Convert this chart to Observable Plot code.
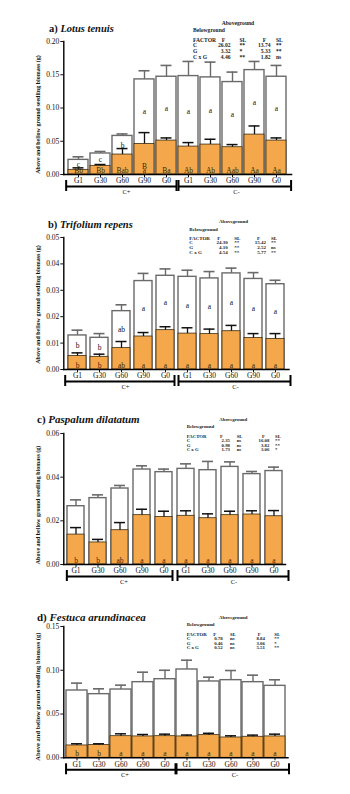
<!DOCTYPE html>
<html><head><meta charset="utf-8">
<script src="https://cdn.jsdelivr.net/npm/d3@7"></script>
<script src="https://cdn.jsdelivr.net/npm/@observablehq/plot@0.6"></script>
<style>
html,body{margin:0;padding:0;background:#fff}
body{width:350px;height:794px;position:relative;overflow:hidden}
.panel{position:absolute;left:0;top:0}
.title{position:absolute;font-family:"Liberation Serif",serif;font-weight:bold;white-space:nowrap;line-height:1;transform:translateY(-50%);color:#111;z-index:2}
.tb{position:absolute;font-family:"Liberation Serif",serif;font-weight:bold;white-space:nowrap;line-height:1;color:#222;z-index:2}
</style></head><body>
<script>
// ---------- shared categories ----------
const treatments = ["G1", "G30", "G60", "G90", "G0"];
const groups = ["C+", "C-"];
const factors = ["C", "G", "C x G"];
const yLabel = "Above and bellow ground seedling biomass (g)";

// ---------- a) Lotus tenuis ----------
const aTitle = ["a)", "Lotus tenuis"];
const aTicks = [0, 0.05, 0.10, 0.15, 0.20];
const aBelow   = [0.007, 0.013, 0.030, 0.046, 0.051, 0.042, 0.045, 0.041, 0.060, 0.051];
const aBelowSE = [0.003, 0.002, 0.009, 0.017, 0.004, 0.006, 0.008, 0.004, 0.013, 0.004];
const aTotal   = [0.022, 0.0316, 0.058, 0.143, 0.147, 0.148, 0.146, 0.139, 0.157, 0.147];
const aTotalSE = [0.0046, 0.003, 0.003, 0.013, 0.017, 0.022, 0.023, 0.015, 0.013, 0.017];
const aLettersAbove = ["c", "c", "b", "a", "a", "a", "a", "a", "a", "a"];
const aLettersBelow = ["Bb", "Bb", "Bab", "B\na", "Ba", "Ab", "Ab", "Aab", "Aa", "Aa"];
const aBelowF  = ["26.02", "3.32", "4.46"];
const aBelowSL = ["**", "*", "**"];
const aAboveF  = ["13.74", "5.33", "1.82"];
const aAboveSL = ["**", "**", "ns"];

// ---------- b) Trifolium repens ----------
const bTitle = ["b)", "Trifolium repens"];
const bTicks = [0, 0.01, 0.02, 0.03, 0.04, 0.05];
const bBelow   = [0.0051, 0.0048, 0.0081, 0.0125, 0.0149, 0.0136, 0.0134, 0.0145, 0.0119, 0.0116];
const bBelowSE = [0.0012, 0.0010, 0.0025, 0.0015, 0.0013, 0.0022, 0.0019, 0.0022, 0.0017, 0.0020];
const bTotal   = [0.0129, 0.0120, 0.0221, 0.0335, 0.0355, 0.0351, 0.0345, 0.0364, 0.0343, 0.0323];
const bTotalSE = [0.0020, 0.0016, 0.0024, 0.0029, 0.0026, 0.0025, 0.0026, 0.0020, 0.0024, 0.0015];
const bLettersAbove = ["b", "b", "ab", "a", "a", "a", "a", "a", "a", "a"];
const bLettersBelow = ["b", "b", "ab", "a", "a", "a", "a", "a", "a", "a"];
const bBelowF  = ["24.30", "4.10", "4.54"];
const bBelowSL = ["**", "**", "**"];
const bAboveF  = ["15.42", "2.52", "5.77"];
const bAboveSL = ["**", "ns", "**"];

// ---------- c) Paspalum dilatatum ----------
const cTitle = ["c)", "Paspalum dilatatum"];
const cTicks = [0, 0.02, 0.04, 0.06];
const cBelow   = [0.0137, 0.0101, 0.0157, 0.0226, 0.0218, 0.0223, 0.0212, 0.0226, 0.0229, 0.0221];
const cBelowSE = [0.0032, 0.0014, 0.0035, 0.0027, 0.0026, 0.0023, 0.0020, 0.0018, 0.0017, 0.0026];
const cTotal   = [0.0267, 0.0304, 0.0348, 0.0435, 0.0423, 0.0438, 0.0432, 0.0447, 0.0414, 0.0428];
const cTotalSE = [0.0029, 0.0015, 0.0014, 0.0017, 0.0014, 0.0023, 0.0040, 0.0023, 0.0012, 0.0018];
const cLettersAbove = ["", "", "", "", "", "", "", "", "", ""];
const cLettersBelow = ["b", "b", "ab", "a", "a", "a", "a", "a", "a", "a"];
const cBelowF  = ["2.35", "0.98", "1.73"];
const cBelowSL = ["ns", "ns", "ns"];
const cAboveF  = ["16.08", "3.82", "3.06"];
const cAboveSL = ["**", "**", "*"];

// ---------- d) Festuca arundinacea ----------
const dTitle = ["d)", "Festuca arundinacea"];
const dTicks = [0, 0.05, 0.10, 0.15];
const dBelow   = [0.0141, 0.0145, 0.0247, 0.0244, 0.0247, 0.0244, 0.0259, 0.0232, 0.0240, 0.0244];
const dBelowSE = [0.0019, 0.0015, 0.0027, 0.0022, 0.0023, 0.0016, 0.0021, 0.0019, 0.0019, 0.0026];
const dTotal   = [0.0769, 0.0727, 0.0780, 0.0864, 0.0898, 0.1009, 0.0872, 0.0887, 0.0864, 0.0822];
const dTotalSE = [0.0084, 0.0061, 0.0050, 0.0114, 0.0102, 0.0106, 0.0049, 0.0110, 0.0080, 0.0069];
const dLettersAbove = ["", "", "", "", "", "", "", "", "", ""];
const dLettersBelow = ["b", "b", "a", "a", "a", "a", "a", "a", "a", "a"];
const dBelowF  = ["0.78", "0.46", "0.52"];
const dBelowSL = ["ns", "ns", "ns"];
const dAboveF  = ["8.84", "3.06", "5.51"];
const dAboveSL = ["**", "*", "**"];

// ---------- layout (pixels) ----------
const panels = [
  {title: aTitle, ticks: aTicks, below: aBelow, belowSE: aBelowSE, total: aTotal, totalSE: aTotalSE,
   la: aLettersAbove, lb: aLettersBelow, bF: aBelowF, bSL: aBelowSL, tF: aAboveF, tSL: aAboveSL,
   L: {yTop: 41, yZero: 174, pi: 0.113, po: 0.106, mr: 58.9, ext: 4.6, titleX: 49, titleY: 29, titleFs: 10.5,
       ylFs: 6, ylDy: 6.5,
       tbl: {fs: 5.6, ab: [221.7, 24.3], be: [193, 31], rows: [40.8, 46.4, 52, 57.5], lx: 193, f1h: 221.7, f1r: 230.5, sl1: 239.5, f2h: 262.7, f2r: 270.5, sl2: 276}}},
  {title: bTitle, ticks: bTicks, below: bBelow, belowSE: bBelowSE, total: bTotal, totalSE: bTotalSE,
   la: bLettersAbove, lb: bLettersBelow, bF: bBelowF, bSL: bBelowSL, tF: bAboveF, tSL: bAboveSL,
   L: {yTop: 236.7, yZero: 368.7, pi: 0.2, po: 0.15, mr: 61.5, ext: 6, titleX: 48, titleY: 224.7, titleFs: 10.5,
       ylFs: 6, ylDy: 1,
       tbl: {fs: 5, ab: [219, 220.7], be: [189.3, 229], rows: [237.5, 242.3, 247, 251.7], lx: 189.3, f1h: 217.3, f1r: 227.7, sl1: 234.3, f2h: 257, f2r: 266, sl2: 271}}},
  {title: cTitle, ticks: cTicks, below: cBelow, belowSE: cBelowSE, total: cTotal, totalSE: cTotalSE,
   la: cLettersAbove, lb: cLettersBelow, bF: cBelowF, bSL: cBelowSL, tF: cAboveF, tSL: cAboveSL,
   L: {yTop: 432.7, yZero: 563.7, pi: 0.24, po: 0.03, mr: 65, ext: 6, titleX: 37, titleY: 419.3, titleFs: 11,
       ylFs: 6, ylDy: 6,
       tbl: {fs: 4.8, ab: [219.3, 420.3], be: [186.7, 427], rows: [436.5, 441, 445.5, 450], lx: 186.7, f1h: 220, f1r: 230, sl1: 236.7, f2h: 262, f2r: 269.3, sl2: 275}}},
  {title: dTitle, ticks: dTicks, below: dBelow, belowSE: dBelowSE, total: dTotal, totalSE: dTotalSE,
   la: dLettersAbove, lb: dLettersBelow, bF: dBelowF, bSL: dBelowSL, tF: dAboveF, tSL: dAboveSL,
   L: {yTop: 626, yZero: 757.3, pi: 0.05, po: 0.02, mr: 62.5, ext: 3.5, titleX: 37, titleY: 616.7, titleFs: 11,
       ylFs: 6.5, ylDy: 4.5,
       tbl: {fs: 4.9, ab: [219, 617.7], be: [186.7, 625], rows: [634.5, 639.2, 643.8, 648.4], lx: 186.7, f1h: 213.3, f1r: 222.7, sl1: 230, f2h: 257.7, f2r: 265, sl2: 274.3}}}
];

const ORANGE = "#f5a84b";
const GREY = "#6a6a6a";
const ML = 63.3, MT = 30, MB = 28;
const keys = groups.flatMap(g => treatments.map(t => g + "|" + t));

function addText(txt, x, y, fs, align) {
  const s = document.createElement("span");
  s.className = "tb";
  s.textContent = txt;
  s.style.fontSize = fs + "px";
  s.style.top = y + "px";
  s.style.transform = "translateY(-50%)";
  if (align === "right") s.style.right = (350 - x) + "px";
  else s.style.left = x + "px";
  document.body.appendChild(s);
}

for (const p of panels) {
  const L = p.L;
  const h = L.yZero - L.yTop;
  const H = MT + h + MB;
  const rows = keys.map((k, i) => ({
    k, below: p.below[i], belowSE: p.belowSE[i], total: p.total[i], totalSE: p.totalSE[i],
    la: p.la[i], lb: p.lb[i]
  }));
  const base = {
    width: 350, height: H, marginLeft: ML, marginRight: L.mr, marginTop: MT, marginBottom: MB,
    style: {fontFamily: "Liberation Serif, serif", fontSize: "7.5px", color: "#111", background: "transparent", overflow: "visible"},
    x: {domain: keys, paddingInner: L.pi, paddingOuter: L.po, axis: null},
    y: {domain: [0, p.ticks[p.ticks.length - 1]], axis: null}
  };
  // probe the band geometry from the library's own x scale
  const sx = Plot.plot({...base, marks: [Plot.barY(rows, {x: "k", y: "total"})]}).scale("x");
  const bw = sx.bandwidth, step = sx.step;
  const outer = step * L.po;
  const capInset = Math.max(0, (bw - 11) / 2);

  const cap = (x, dx) => Plot.ruleX([x], {x: d => d, dx, insetTop: h + 6, insetBottom: -17, stroke: "#000", strokeWidth: 2});

  const chart = Plot.plot({
    ...base,
    marks: [
      // aboveground (stacked on top of belowground)
      Plot.barY(rows, {x: "k", y1: 0, y2: "total", fill: "#fff", stroke: GREY, strokeWidth: 1.4}),
      Plot.ruleX(rows, {x: "k", y1: "total", y2: d => d.total + d.totalSE, stroke: GREY, strokeWidth: 1.4}),
      Plot.tickY(rows, {x: "k", y: d => d.total + d.totalSE, inset: capInset, stroke: GREY, strokeWidth: 1.6}),
      // belowground
      Plot.barY(rows, {x: "k", y1: 0, y2: "below", fill: ORANGE, stroke: "#3b2c12", strokeWidth: 0.8}),
      Plot.ruleX(rows, {x: "k", y1: "below", y2: d => d.below + d.belowSE, stroke: "#111", strokeWidth: 1.3}),
      Plot.tickY(rows, {x: "k", y: d => d.below + d.belowSE, inset: capInset, stroke: "#111", strokeWidth: 1.5}),
      // significance letters
      Plot.text(rows, {x: "k", y: d => (d.below + d.total) / 2, text: "la", fontSize: 7.5, fill: "#111"}),
      Plot.text(rows, {x: "k", y: () => 0, text: "lb", fontSize: 7.5, fill: "#3a2808", lineAnchor: "bottom", lineHeight: 0.55, dy: -1.5}),
      // axes
      Plot.frame({anchor: "left", stroke: "#000", strokeWidth: 1.4}),
      Plot.frame({anchor: "bottom", stroke: "#000", strokeWidth: 1.4}),
      Plot.axisY({ticks: p.ticks, tickFormat: d3.format(".2f"), tickSize: 3, tickPadding: 1.5, label: null, fontSize: 7.5}),
      Plot.axisX({tickFormat: d => d.split("|")[1], tickSize: 3, tickPadding: 0.5, label: null, fontSize: 7.5}),
      Plot.text([yLabel], {frameAnchor: "left", textAnchor: "middle", rotate: -90, dx: -25.6, dy: L.ylDy, fontSize: L.ylFs, fontWeight: "bold", fill: "#111"}),
      // group brackets
      Plot.ruleY([{x1: "C+|G1", x2: "C+|G0"}], {x1: "x1", x2: "x2", y: () => 0, dy: 12, insetLeft: -outer, stroke: "#000", strokeWidth: 2}),
      Plot.ruleY([{x1: "C-|G1", x2: "C-|G0"}], {x1: "x1", x2: "x2", y: () => 0, dy: 12, insetRight: -L.ext, stroke: "#000", strokeWidth: 2}),
      cap("C+|G1", -(bw / 2 + outer)),
      cap("C+|G0", bw / 2),
      cap("C-|G1", -bw / 2),
      cap("C-|G0", bw / 2 + L.ext),
      Plot.text(groups, {x: g => g + "|G60", frameAnchor: "bottom", dy: 19, dx: 4, text: d => d, fontSize: 6.5, fill: "#111"})
    ]
  });
  const div = document.createElement("div");
  div.className = "panel";
  div.style.top = (L.yTop - MT) + "px";
  div.appendChild(chart);
  document.body.appendChild(div);

  // title
  const t = document.createElement("div");
  t.className = "title";
  t.style.left = L.titleX + "px";
  t.style.top = L.titleY + "px";
  t.style.fontSize = L.titleFs + "px";
  t.appendChild(document.createTextNode(p.title[0] + " "));
  const it = document.createElement("i");
  it.textContent = p.title[1];
  t.appendChild(it);
  document.body.appendChild(t);

  // statistics table
  const T = L.tbl;
  addText("Aboveground", T.ab[0], T.ab[1], T.fs);
  addText("Belowground", T.be[0], T.be[1], T.fs);
  addText("FACTOR", T.lx, T.rows[0], T.fs);
  addText("F", T.f1h, T.rows[0], T.fs);
  addText("SL", T.sl1, T.rows[0], T.fs);
  addText("F", T.f2h, T.rows[0], T.fs);
  addText("SL", T.sl2, T.rows[0], T.fs);
  factors.forEach((f, i) => {
    const y = T.rows[i + 1];
    addText(f, T.lx, y, T.fs);
    addText(p.bF[i], T.f1r, y, T.fs, "right");
    addText(p.bSL[i], T.sl1, y, T.fs);
    addText(p.tF[i], T.f2r, y, T.fs, "right");
    addText(p.tSL[i], T.sl2, y, T.fs);
  });
}
</script>
</body></html>
